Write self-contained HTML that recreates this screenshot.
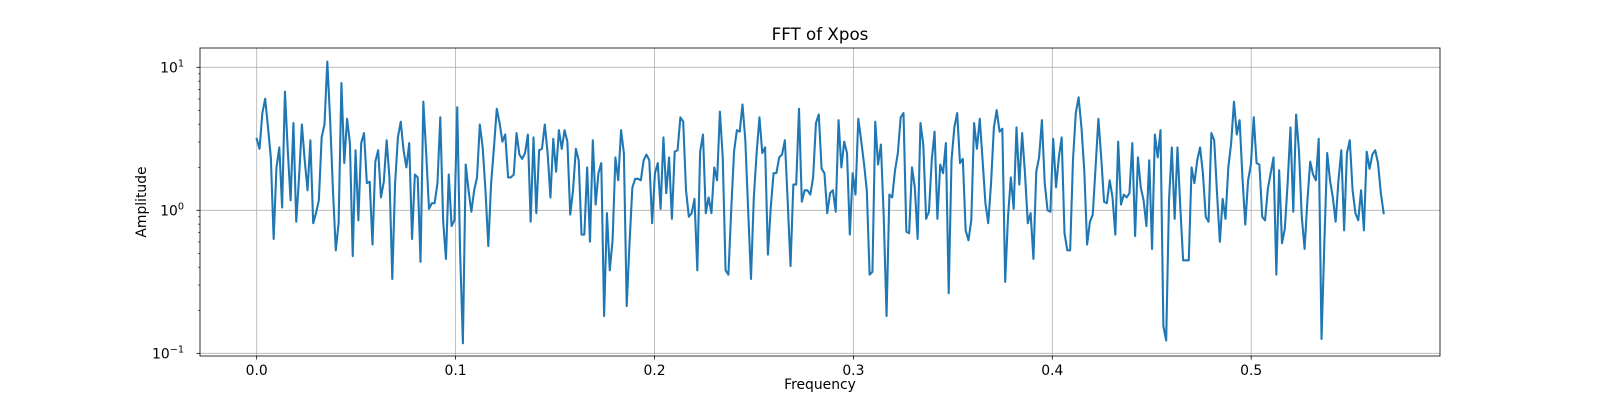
<!DOCTYPE html>
<html><head><meta charset="utf-8"><style>
html,body{margin:0;padding:0;background:#fff;}
svg{display:block;font-family:"DejaVu Sans","Liberation Sans",sans-serif;}
</style></head><body>
<svg id="chart" width="1600" height="400" viewBox="0 0 1600 400">
<rect x="0" y="0" width="1600" height="400" fill="#fff"/>
<g id="grid"></g>
<g id="series"></g>
<rect x="200" y="48" width="1240" height="308" fill="none" stroke="#000" stroke-width="0.8"/>
<g id="ticks"></g>
<text x="820" y="40" font-size="16.7" text-anchor="middle">FFT of Xpos</text>
<text x="820" y="389" font-size="13.9" text-anchor="middle">Frequency</text>
<text x="146" y="202" font-size="13.9" text-anchor="middle" transform="rotate(-90 146 202)">Amplitude</text>
</svg>
<script>
const xTicks = [0.0, 0.1, 0.2, 0.3, 0.4, 0.5];
const xTickLabels = ["0.0", "0.1", "0.2", "0.3", "0.4", "0.5"];
const yDecades = [-1, 0, 1];
const freqMax = 0.5666;
const log10Amp = [
.50,.43,.68,.78,.58,.37,-.20,.30,.44,.02,.83,.42,.07,.61,-.08,.23,.60,.35,.14,.49,-.09,-.02,.07,.51,.60,1.04,.63,.14,-.28,-.09,.89,.33,.64,.47,-.32,.42,-.07,.47,.54,.19,.20,-.24,.34,.42,.09,.20,.49,.23,-.48,.19,.51,.62,.42,.30,.47,-.20,.25,.23,-.36,.76,.40,.01,.05,.05,.19,.65,-.07,
-.34,.25,-.11,-.07,.72,-.28,-.93,.32,.14,-.01,.14,.23,.60,.44,.14,-.25,.19,.44,.71,.61,.48,.53,.23,.23,.25,.54,.39,.36,.40,.53,-.08,.51,-.02,.42,.43,.60,.40,.09,.50,.27,.56,.43,.56,.48,-.03,.14,.43,.35,-.17,-.17,.30,-.22,.49,.04,.26,.33,-.74,-.02,-.42,-.21,.37,.21,.56,.40,-.67,-.23,.16,.22,.22,
.21,.35,.39,.35,-.09,.26,.33,.01,.51,.12,.37,-.06,.41,.42,.65,.62,.14,-.045,-.02,.08,-.42,.41,.53,-.02,.09,-.02,.30,.21,.69,.37,-.42,-.45,.00,.41,.56,.55,.74,.49,.00,-.48,.09,.40,.65,.40,.44,-.31,.02,.26,.26,.37,.39,.49,.06,-.39,.18,.18,.71,.06,.14,.14,.11,.23,.61,.67,.29,.26,-.02,.12,.14,-.01,
.63,.30,.48,.40,-.17,.26,.11,.64,.49,.33,.14,-.45,-.43,.62,.32,.46,-.045,-.74,.11,.09,.28,.40,.65,.68,-.15,-.16,.30,.16,-.20,.61,.46,-.06,-.01,.35,.55,-.06,.32,.26,.47,-.58,.35,.58,.68,.33,.36,-.14,-.21,-.07,.61,.43,.64,.35,.05,-.09,.19,.58,.70,.55,.57,-.50,-.045,.23,.01,.58,.18,.54,.26,-.09,-.02,
-.34,.27,.37,.63,.19,.00,-.01,.50,.16,.37,.51,-.16,-.28,-.28,.35,.68,.79,.58,.28,-.24,-.08,-.03,.30,.64,.37,.06,.05,.21,.09,-.17,.48,.04,.11,.09,.12,.47,-.18,.37,.16,.07,-.11,.35,-.27,.53,.37,.56,-.81,-.91,.07,.44,-.06,.44,.02,-.35,-.35,-.35,.30,.19,.35,.44,.26,-.045,-.08,.54,.49,.12,-.22,.08,-.06,.30,
.47,.76,.53,.63,.23,-.10,.21,.32,.65,.33,.32,-.045,-.07,.15,.26,.37,-.45,.28,-.23,-.13,.19,.58,-.01,.67,.42,-.045,-.27,.07,.34,.25,.21,.50,-.90,-.23,.40,.21,.09,-.08,.21,.42,-.14,.40,.49,.14,-.02,-.07,.14,-.14,.41,.29,.39,.42,.33,.12,-.02
];
const NS = "http://www.w3.org/2000/svg";
const X = f => 256.7 + f * 1989;
const Y = lg => 210.3 - 143 * lg;
function mk(tag, attrs, parent) {
  const e = document.createElementNS(NS, tag);
  for (const k in attrs) e.setAttribute(k, attrs[k]);
  parent.appendChild(e);
  return e;
}
const grid = document.getElementById('grid');
const ticks = document.getElementById('ticks');
const series = document.getElementById('series');
xTicks.forEach((t, i) => {
  const x = X(t);
  const g = mk('line', {x1: x, x2: x, y1: 48, y2: 356, stroke: '#b0b0b0', 'stroke-width': 0.8}, grid);
  
  
  const tk = mk('line', {x1: x, x2: x, y1: 356, y2: 359.5, stroke: '#000', 'stroke-width': 0.8}, ticks);
  
  
  const lb = mk('text', {x: x, y: 375, 'font-size': 13.9, 'text-anchor': 'middle'}, ticks);
  lb.textContent = xTickLabels[i];
  
  
});
yDecades.forEach(d => {
  const y = Y(d);
  const g = mk('line', {x1: 200, x2: 1440, y1: y, y2: y, stroke: '#b0b0b0', 'stroke-width': 0.8}, grid);
  
  
  const tk = mk('line', {x1: 196.5, x2: 200, y1: y, y2: y, stroke: '#000', 'stroke-width': 0.8}, ticks);
  
  
  const lb = mk('text', {x: 184, y: y + 5, 'font-size': 13.9, 'text-anchor': 'end'}, ticks);
  
  
  const base = mk('tspan', {}, lb); base.textContent = '10';
  const sup = mk('tspan', {dy: -6, 'font-size': 9.7}, lb); sup.textContent = String(d).replace('-', '\u2212');
});
[-2, -1, 0, 1].forEach(d => {
  for (let m = 2; m <= 9; m++) {
    const y = Y(d + Math.log10(m));
    if (y < 48 || y > 356) continue;
    const tk = mk('line', {x1: 198, x2: 200, y1: y, y2: y, stroke: '#000', 'stroke-width': 0.6}, ticks);
    
    
  }
});
const n = log10Amp.length;
const pts = log10Amp.map((v, i) => X(i * freqMax / (n - 1)).toFixed(2) + ',' + Y(v).toFixed(2)).join(' ');
const line = mk('polyline', {points: pts, fill: 'none', stroke: '#1f77b4', 'stroke-width': 2.08, 'stroke-linejoin': 'round', 'stroke-linecap': 'square'}, series);


</script>
</body></html>
